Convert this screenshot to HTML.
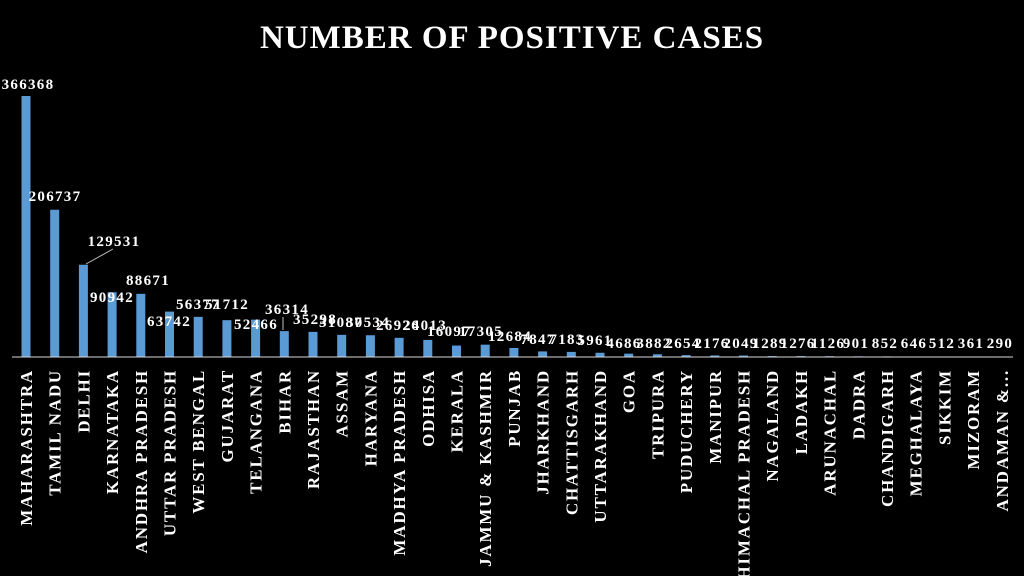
<!DOCTYPE html>
<html><head><meta charset="utf-8"><style>
html,body{margin:0;padding:0;background:#000;}
svg{display:block;}
</style></head><body>
<svg width="1024" height="576" xmlns="http://www.w3.org/2000/svg" font-family="Liberation Serif, serif">
<rect width="1024" height="576" fill="#000"/>
<text x="512" y="48" text-anchor="middle" fill="#fff" font-size="33" font-weight="bold" letter-spacing="1">NUMBER OF POSITIVE CASES</text>
<g id="bars" fill="#5b9bd5"></g>
<line x1="12" y1="357" x2="1013" y2="357" stroke="#d9d9d9" stroke-width="1"/>
<line x1="86" y1="264" x2="113" y2="249" stroke="#bfbfbf" stroke-width="1"/>
<line x1="283" y1="317" x2="283" y2="330" stroke="#bfbfbf" stroke-width="1"/>
<g id="vals" fill="#fff" font-size="15" font-weight="bold" letter-spacing="1.3" text-anchor="middle"></g>
<g id="cats" fill="#fff" font-size="17" font-weight="bold" letter-spacing="1.8" text-anchor="end"></g>
</svg>
<script>
var d=[["MAHARASHTRA",366368,28,89],["TAMIL NADU",206737,55,201],["DELHI",129531,114,246],["KARNATAKA",90942,112,302],["ANDHRA PRADESH",88671,148,285],["UTTAR PRADESH",63742,169,326],["WEST BENGAL",56377,198,309],["GUJARAT",51712,227,309],["TELANGANA",52466,256,329],["BIHAR",36314,287,314],["RAJASTHAN",35298,315,324],["ASSAM",31087,341,327],["HARYANA",30534,368,327],["MADHYA PRADESH",26926,398,330],["ODHISA",24013,425,330],["KERALA",16097,449,336],["JAMMU & KASHMIR",17305,481,336],["PUNJAB",12684,510,341],["JHARKHAND",7847,538,344],["CHATTISGARH",7183,567,344],["UTTARAKHAND",5961,595,345],["GOA",4686,624,348],["TRIPURA",3882,654,348],["PUDUCHERY",2654,683,348],["MANIPUR",2176,712,348],["HIMACHAL PRADESH",2049,741,348],["NAGALAND",1289,770,348],["LADAKH",1276,798,348],["ARUNACHAL",1126,828,348],["DADRA",901,856,348],["CHANDIGARH",852,885,348],["MEGHALAYA",646,914,348],["SIKKIM",512,942,348],["MIZORAM",361,971,348],["ANDAMAN &...",290,1000,348]];
var ns="http://www.w3.org/2000/svg",b=document.getElementById("bars"),v=document.getElementById("vals"),c=document.getElementById("cats");
d.forEach(function(r,i){
 var cx=26+28.7*i,h=r[1]*261/366368;
 var e=document.createElementNS(ns,"rect");e.setAttribute("x",cx-4.5);e.setAttribute("y",357-h);e.setAttribute("width",9);e.setAttribute("height",h);b.appendChild(e);
 var t=document.createElementNS(ns,"text");t.setAttribute("x",r[2]);t.setAttribute("y",r[3]);t.textContent=r[1];v.appendChild(t);
 var l=document.createElementNS(ns,"text");l.setAttribute("transform","translate("+(cx+6)+",369) rotate(-90)");l.textContent=r[0];c.appendChild(l);
});
</script>
</body></html>
